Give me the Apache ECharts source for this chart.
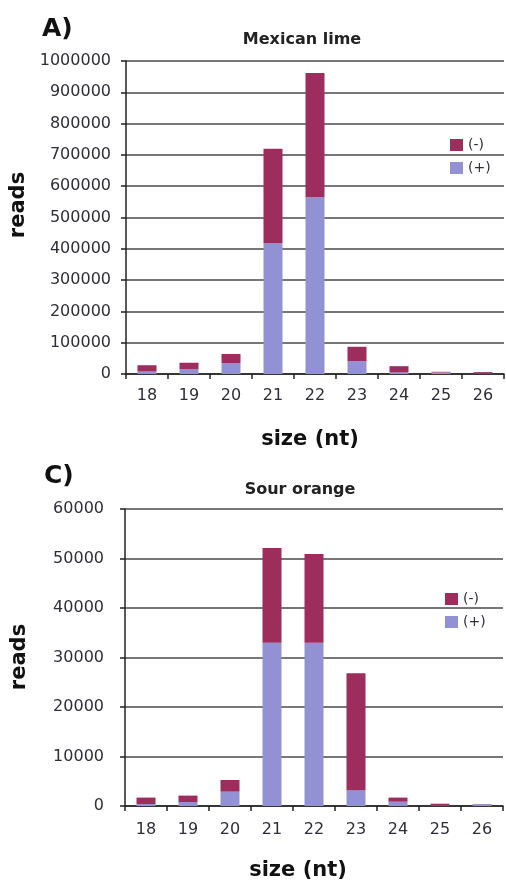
<!DOCTYPE html>
<html><head><meta charset="utf-8">
<script src="https://cdn.jsdelivr.net/npm/echarts@6/dist/echarts.min.js"></script>
<style>html,body{margin:0;padding:0;background:#fff}#c{width:506px;height:886px}</style>
</head><body><div id="c"></div>
<script>
const categories = ['18','19','20','21','22','23','24','25','26'];
// Mexican lime
const limePlus  = [8000, 15000, 35000, 418000, 565000, 41000, 5000, 5000, 1000];
const limeMinus = [20000, 21000, 29000, 302000, 397000, 46000, 20000, 2000, 5000];
// Sour orange
const sourPlus  = [400, 800, 2900, 33000, 33000, 3200, 870, 100, 350];
const sourMinus = [1300, 1300, 2350, 19100, 17900, 23600, 830, 360, 50];
const limeTicks = [0,100000,200000,300000,400000,500000,600000,700000,800000,900000,1000000];
const sourTicks = [0,10000,20000,30000,40000,50000,60000];

const MAROON = '#9c2d5d', LAV = '#9191d4';
const FONT = 'DejaVu Sans';
const chart = echarts.init(document.getElementById('c'));
const axisTxt = {color:'#2e2e3a', fontFamily:FONT, fontSize:16};
function xAxis(i,margin){return {type:'category', gridIndex:i, data:categories,
  axisLine:{lineStyle:{color:'#222',width:1.5}},
  axisTick:{show:true, alignWithLabel:false, length:5, lineStyle:{color:'#222',width:1.5}},
  axisLabel:Object.assign({margin:margin}, axisTxt)};}
function yAxis(i,ticks,margin){return {type:'value', gridIndex:i, min:ticks[0], max:ticks[ticks.length-1], interval:ticks[1]-ticks[0],
  axisLine:{show:true, lineStyle:{color:'#222',width:1.5}},
  axisTick:{show:true, length:5, lineStyle:{color:'#222',width:1.5}},
  splitLine:{show:true, lineStyle:{color:'#4a4a4a',width:1.5}},
  axisLabel:Object.assign({margin:margin, formatter:v=>String(v)}, axisTxt)};}
const barW = 19;
const legendCommon = {data:['(-)','(+)'], orient:'vertical', padding:0, itemWidth:13, itemHeight:12, itemGap:9, icon:'rect',
  textStyle:{fontSize:14, color:'#2e2e3a', fontFamily:FONT}};
chart.setOption({
  animation:false,
  textStyle:{fontFamily:FONT},
  title:[
    {text:'A)', left:37, top:12, textStyle:{fontSize:25, fontWeight:'bold', color:'#111', fontFamily:FONT}},
    {text:'Mexican lime', left:297, top:27, textAlign:'center', textStyle:{fontSize:16, fontWeight:'bold', color:'#222', fontFamily:FONT}},
    {text:'C)', left:39, top:459, textStyle:{fontSize:25, fontWeight:'bold', color:'#111', fontFamily:FONT}},
    {text:'Sour orange', left:295, top:477, textAlign:'center', textStyle:{fontSize:16, fontWeight:'bold', color:'#222', fontFamily:FONT}}
  ],
  legend:[
    Object.assign({left:450, top:138}, legendCommon),
    Object.assign({left:445, top:592}, legendCommon)
  ],
  grid:[
    {left:126, top:61, width:378, height:313},
    {left:125, top:509, width:378, height:297}
  ],
  xAxis:[xAxis(0,14), xAxis(1,16)],
  yAxis:[yAxis(0,limeTicks,15), yAxis(1,sourTicks,21)],
  series:[
    {name:'(+)', type:'bar', stack:'a', xAxisIndex:0, yAxisIndex:0, data:limePlus, barWidth:barW, itemStyle:{color:LAV}},
    {name:'(-)', type:'bar', stack:'a', xAxisIndex:0, yAxisIndex:0, data:limeMinus, barWidth:barW, itemStyle:{color:MAROON}},
    {name:'(+)', type:'bar', stack:'b', xAxisIndex:1, yAxisIndex:1, data:sourPlus, barWidth:barW, itemStyle:{color:LAV}},
    {name:'(-)', type:'bar', stack:'b', xAxisIndex:1, yAxisIndex:1, data:sourMinus, barWidth:barW, itemStyle:{color:MAROON}}
  ],
  graphic:[
    {type:'text', x:19, y:205, rotation:Math.PI/2, style:{text:'reads', align:'center', verticalAlign:'middle', font:'bold 21px "DejaVu Sans"', fill:'#111'}},
    {type:'text', x:20, y:657, rotation:Math.PI/2, style:{text:'reads', align:'center', verticalAlign:'middle', font:'bold 21px "DejaVu Sans"', fill:'#111'}},
    {type:'text', x:310, y:440, style:{text:'size (nt)', align:'center', verticalAlign:'middle', font:'bold 21px "DejaVu Sans"', fill:'#111'}},
    {type:'text', x:298, y:871, style:{text:'size (nt)', align:'center', verticalAlign:'middle', font:'bold 21px "DejaVu Sans"', fill:'#111'}}
  ]
});
</script></body></html>
